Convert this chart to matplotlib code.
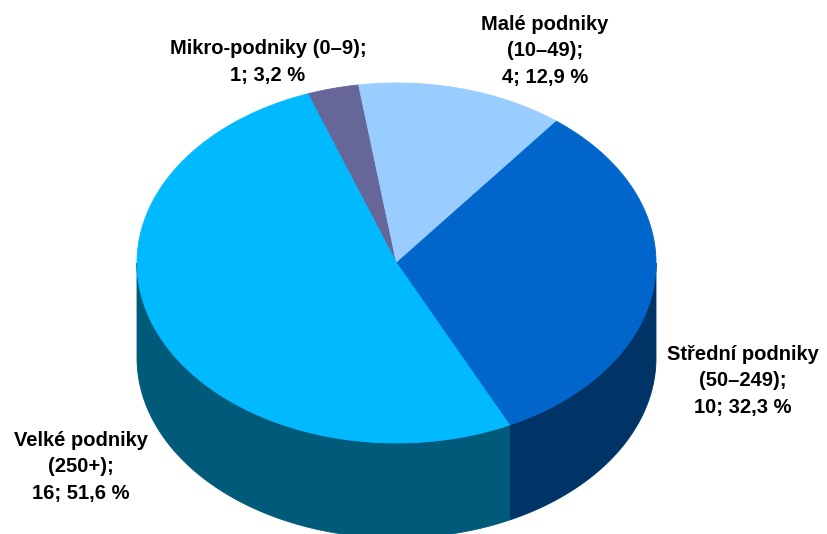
import numpy as np
import matplotlib
matplotlib.use("Agg")
import matplotlib.pyplot as plt
from matplotlib.patches import Polygon

categories = ["Mikro-podniky (0–9)", "Malé podniky (10–49)", "Střední podniky (50–249)", "Velké podniky (250+)"]
counts = [1, 4, 10, 16]
percent_labels = ["3,2 %", "12,9 %", "32,3 %", "51,6 %"]
label_texts = [
    "Mikro-podniky (0–9);\n1; 3,2 %",
    "Malé podniky\n(10–49);\n4; 12,9 %",
    "Střední podniky\n(50–249);\n10; 32,3 %",
    "Velké podniky\n(250+);\n16; 51,6 %",
]
top_colors = ["#666699", "#99CCFF", "#0066CC", "#00B9FF"]
side_colors = ["#444466", "#6688AA", "#003366", "#005A7A"]

W, H = 827, 534
fig = plt.figure(figsize=(W / 100, H / 100), dpi=100)
ax = fig.add_axes([0, 0, 1, 1])
ax.set_xlim(0, W)
ax.set_ylim(H, 0)
ax.axis("off")

cx, cy, a, b, depth = 396.5, 263.0, 259.5, 180.0, 95.0
start = 110.0
total = sum(counts)

def pt(theta_deg, dy=0.0):
    t = np.radians(theta_deg)
    return cx + a * np.cos(t), cy - b * np.sin(t) + dy

ranges = []
cur = start
for c in counts:
    span = c / total * 360.0
    ranges.append((cur - span, cur))
    cur -= span

# sides (front half only)
for (t0, t1), col in zip(ranges, side_colors):
    for shift in (-360, 0, 360):
        lo = max(t0 + shift, -180.0)
        hi = min(t1 + shift, 0.0)
        if hi > lo:
            ts = np.linspace(lo, hi, 200)
            top = [pt(t) for t in ts]
            bot = [pt(t, depth) for t in ts[::-1]]
            ax.add_patch(Polygon(top + bot, closed=True, facecolor=col,
                                 edgecolor=col, linewidth=0.6, zorder=1))

# tops
for (t0, t1), col in zip(ranges, top_colors):
    ts = np.linspace(t0, t1, 300)
    verts = [(cx, cy)] + [pt(t) for t in ts]
    ax.add_patch(Polygon(verts, closed=True, facecolor=col,
                         edgecolor=col, linewidth=0.6, zorder=2))

label_pos = [(268, 62), (545, 51), (743, 381), (81, 467)]
for txt, (x, y) in zip(label_texts, label_pos):
    ax.text(x, y, txt, ha="center", va="center", fontsize=14.5,
            fontweight="bold", family="Liberation Sans", color="#000000",
            linespacing=1.5, zorder=5)

fig.savefig("out.png", dpi=100)
